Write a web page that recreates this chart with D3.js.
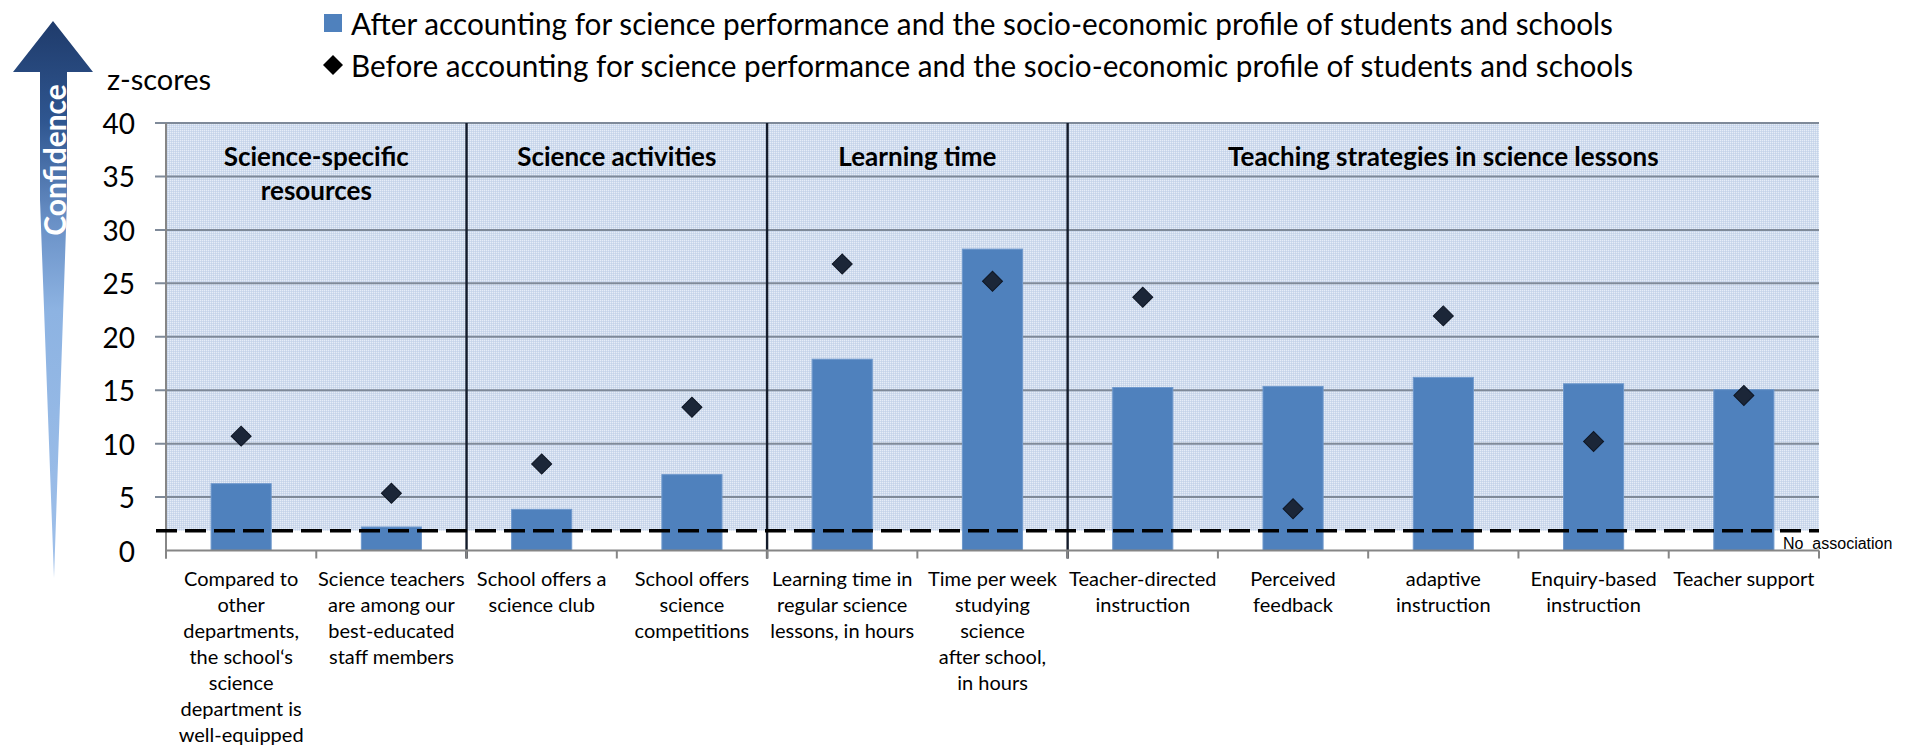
<!DOCTYPE html>
<html>
<head>
<meta charset="utf-8">
<script src="https://cdn.jsdelivr.net/npm/d3@7"></script>
<style>
  html, body { margin: 0; padding: 0; background: #ffffff; }
  svg { display: block; }
</style>
</head>
<body>
<svg id="chart" width="1910" height="745"></svg>
<script>
// ---------------- DATA ----------------
const categories = [
  "Compared to\nother\ndepartments,\nthe school‘s\nscience\ndepartment is\nwell-equipped",
  "Science teachers\nare among our\nbest-educated\nstaff members",
  "School offers a\nscience club",
  "School offers\nscience\ncompetitions",
  "Learning time in\nregular science\nlessons, in hours",
  "Time per week\nstudying\nscience\nafter school,\nin hours",
  "Teacher-directed\ninstruction",
  "Perceived\nfeedback",
  "adaptive\ninstruction",
  "Enquiry-based\ninstruction",
  "Teacher support"
];
const afterValues  = [6.25, 2.2, 3.85, 7.1, 17.9, 28.2, 15.25, 15.35, 16.2, 15.6, 15.05];
const beforeValues = [10.7, 5.35, 8.1, 13.4, 26.8, 25.2, 23.7, 3.9, 21.95, 10.2, 14.5];
const groupNames = ["Science-specific\nresources", "Science activities", "Learning time", "Teaching strategies in science lessons"];
const groupSizes = [2, 2, 2, 5];
const yTicks = [0, 5, 10, 15, 20, 25, 30, 35, 40];
const noAssociation = 1.85;
const legendLabels = [
  "After accounting for science performance and the socio-economic profile of students and schools",
  "Before accounting for science performance and the socio-economic profile of students and schools"
];
const yAxisTitle = "z-scores";
const arrowLabel = "Confidence";
const noAssocLabel = "No\u00a0 association";

// ---------------- LAYOUT ----------------
const svg = d3.select("#chart");
const L = 166, R = 1819, T = 123, B = 550.5;
const x = d3.scaleBand().domain(d3.range(categories.length)).range([L, R]).padding(0);
const y = d3.scaleLinear().domain([0, 40]).range([B, T]);
const bw = x.bandwidth() * 0.4;

const defs = svg.append("defs");
const pat = defs.append("pattern").attr("id", "dots").attr("patternUnits", "userSpaceOnUse")
  .attr("width", 2).attr("height", 2);
pat.append("rect").attr("width", 2).attr("height", 2).attr("fill", "#cfdbed");
pat.append("rect").attr("x", 0).attr("y", 0).attr("width", 1).attr("height", 1).attr("fill", "#e6edf7");
pat.append("rect").attr("x", 1).attr("y", 1).attr("width", 1).attr("height", 1).attr("fill", "#c4d3e9");

const grad = defs.append("linearGradient").attr("id", "arrowGrad")
  .attr("gradientUnits", "userSpaceOnUse").attr("x1", 0).attr("y1", 21).attr("x2", 0).attr("y2", 578);
grad.append("stop").attr("offset", "0%").attr("stop-color", "#1f3b6b");
grad.append("stop").attr("offset", "18%").attr("stop-color", "#2f5690");
grad.append("stop").attr("offset", "36%").attr("stop-color", "#6990c6");
grad.append("stop").attr("offset", "52%").attr("stop-color", "#8db3e2");
grad.append("stop").attr("offset", "100%").attr("stop-color", "#9fc0ea");

// ---------------- CONFIDENCE ARROW ----------------
svg.append("path")
  .attr("d", "M53,21 L93,72 L67,72 L67,200 L54,578 L40,200 L40,72 L13,72 Z")
  .attr("fill", "url(#arrowGrad)");
svg.append("text")
  .attr("transform", "translate(54,160) rotate(-90)")
  .attr("text-anchor", "middle").attr("dominant-baseline", "central")
  .attr("font-family", "Lato, sans-serif").attr("font-weight", "bold").attr("font-size", 30)
  .attr("fill", "#ffffff").text(arrowLabel);

// ---------------- PLOT BACKGROUND ----------------
svg.append("rect")
  .attr("x", L).attr("y", y(40)).attr("width", R - L).attr("height", y(noAssociation) - y(40))
  .attr("fill", "url(#dots)");

// gridlines + y ticks
svg.append("g").selectAll("line").data(yTicks.filter(d => d > 0)).join("line")
  .attr("x1", L - 11).attr("x2", R).attr("y1", d => y(d)).attr("y2", d => y(d))
  .attr("stroke", "#7f8a99").attr("stroke-width", 2);

svg.append("g").selectAll("text").data(yTicks).join("text")
  .attr("x", 135).attr("y", d => y(d))
  .attr("text-anchor", "end").attr("dominant-baseline", "central")
  .attr("font-family", "Lato, sans-serif").attr("font-size", 28).attr("fill", "#000")
  .text(d => d);

svg.append("text").attr("x", 107).attr("y", 90)
  .attr("font-family", "Lato, sans-serif").attr("font-size", 29).attr("fill", "#000")
  .text(yAxisTitle);

// group separators
let acc = 0;
const groupBounds = groupSizes.map(s => { const st = acc; acc += s; return [st, acc]; });
const sepIdx = groupBounds.slice(0, -1).map(g => g[1]);
svg.append("g").selectAll("line").data(sepIdx).join("line")
  .attr("x1", d => x(d)).attr("x2", d => x(d)).attr("y1", T).attr("y2", B + 8)
  .attr("stroke", "#141c2b").attr("stroke-width", 2.4);

// group headers
const hdr = svg.append("g").attr("font-family", "Lato, sans-serif").attr("font-weight", "bold")
  .attr("font-size", 26).attr("fill", "#000").attr("text-anchor", "middle");
groupNames.forEach((name, i) => {
  const [s, e] = groupBounds[i];
  const cx = (x(s) + (e < categories.length ? x(e) : R)) / 2;
  name.split("\n").forEach((ln, j) => {
    hdr.append("text").attr("x", cx).attr("y", 156 + j * 34)
      .attr("dominant-baseline", "central").text(ln);
  });
});

// axes lines
svg.append("line").attr("x1", L).attr("x2", L).attr("y1", T).attr("y2", B + 8)
  .attr("stroke", "#868686").attr("stroke-width", 2);

// bars
svg.append("g").selectAll("rect").data(afterValues).join("rect")
  .attr("x", (d, i) => x(i) + (x.bandwidth() - bw) / 2)
  .attr("width", bw)
  .attr("y", d => y(d)).attr("height", d => y(0) - y(d))
  .attr("fill", "#4f81bd").attr("stroke", "#6e98cc").attr("stroke-width", 1);

// x axis
svg.append("line").attr("x1", L).attr("x2", R).attr("y1", B).attr("y2", B)
  .attr("stroke", "#868686").attr("stroke-width", 2.2);
svg.append("g").selectAll("line").data(d3.range(categories.length + 1)).join("line")
  .attr("x1", d => d < categories.length ? x(d) : R).attr("x2", d => d < categories.length ? x(d) : R)
  .attr("y1", B).attr("y2", B + 8)
  .attr("stroke", "#868686").attr("stroke-width", 2);

// no association dashed line
svg.append("line").attr("x1", L - 10).attr("x2", R).attr("y1", y(noAssociation)).attr("y2", y(noAssociation))
  .attr("stroke", "#000").attr("stroke-width", 3.5).attr("stroke-dasharray", "21 8");
svg.append("text").attr("x", 1783).attr("y", 543).attr("dominant-baseline", "central")
  .attr("font-family", "'Liberation Sans', Arial, sans-serif").attr("font-size", 16).attr("fill", "#000")
  .text(noAssocLabel);

// diamonds
const diamond = d3.symbol().type(d3.symbolSquare).size(200);
svg.append("g").selectAll("path").data(beforeValues).join("path")
  .attr("transform", (d, i) => `translate(${x(i) + x.bandwidth() / 2},${y(d)}) rotate(45)`)
  .attr("d", diamond)
  .attr("fill", "#1b2638").attr("stroke", "#0e1624").attr("stroke-width", 1);

// category labels
const cl = svg.append("g").attr("font-family", "Lato, sans-serif").attr("font-size", 20)
  .attr("fill", "#000").attr("text-anchor", "middle");
categories.forEach((c, i) => {
  c.split("\n").forEach((ln, j) => {
    cl.append("text").attr("x", x(i) + x.bandwidth() / 2).attr("y", 578 + j * 26)
      .attr("dominant-baseline", "central").text(ln);
  });
});

// legend
svg.append("rect").attr("x", 324).attr("y", 14).attr("width", 18).attr("height", 18).attr("fill", "#4f81bd");
svg.append("path").attr("transform", "translate(333,65) rotate(45)").attr("d", diamond).attr("fill", "#000");
legendLabels.forEach((t, i) => {
  svg.append("text").attr("x", 351).attr("y", i === 0 ? 23 : 65)
    .attr("dominant-baseline", "central")
    .attr("font-family", "Lato, sans-serif").attr("font-size", 30).attr("fill", "#000")
    .attr("textLength", i === 0 ? 1262 : 1282).attr("lengthAdjust", "spacingAndGlyphs")
    .text(t);
});
</script>
</body>
</html>
